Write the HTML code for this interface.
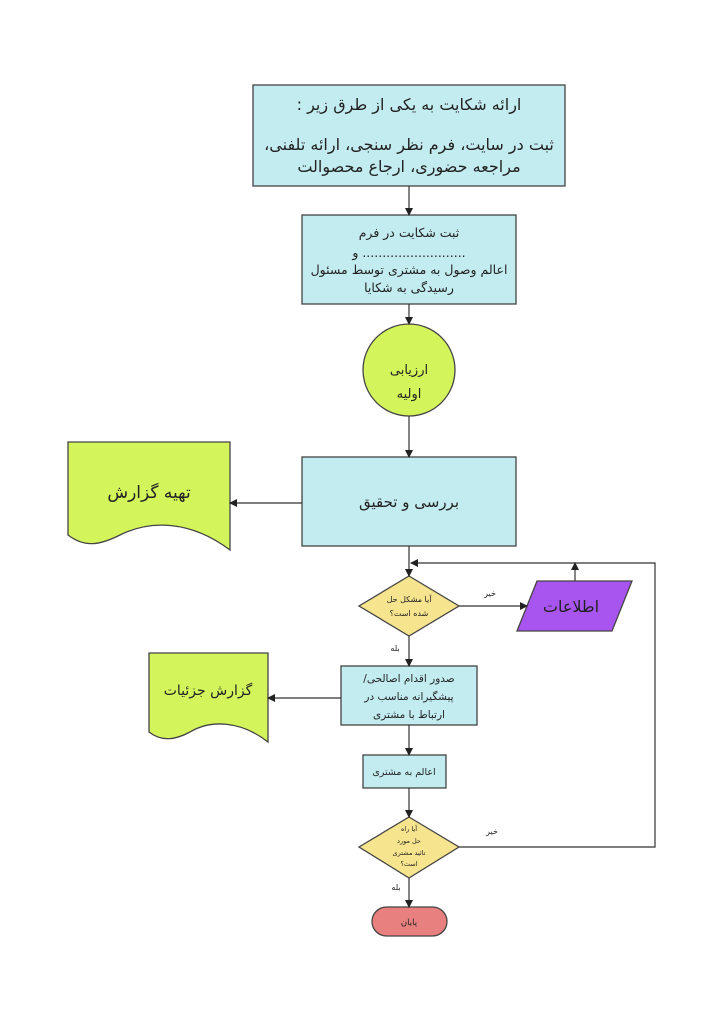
<!DOCTYPE html>
<html><head><meta charset="utf-8"><style>body{margin:0;background:#fff}svg{display:block}text{font-family:"DejaVu Sans","Liberation Sans",sans-serif;fill:#222;text-anchor:middle;direction:rtl}</style></head><body>
<svg width="724" height="1024" viewBox="0 0 724 1024" xmlns="http://www.w3.org/2000/svg">
<defs><marker id="a" markerWidth="8" markerHeight="8" refX="7" refY="4" orient="auto" markerUnits="userSpaceOnUse"><path d="M0,0 L8,4 L0,8z" fill="#222"/></marker></defs>
<g stroke="#444" stroke-width="1.3">
<rect x="253" y="85" width="312" height="101" fill="#c3ecf1"/>
<rect x="302" y="215" width="214" height="89" fill="#c3ecf1"/>
<circle cx="409" cy="370" r="46" fill="#d4f45c"/>
<rect x="302" y="457" width="214" height="89" fill="#c3ecf1"/>
<path d="M68,442 H230 V550 C190,520 150,520 120,535 C100,545 85,548 68,535 Z" fill="#d4f45c"/>
<polygon points="409,576 459,606 409,636 359,606" fill="#f6e48e"/>
<polygon points="537,581 632,581 612,631 517,631" fill="#a855f0"/>
<rect x="341" y="666" width="136" height="59" fill="#c3ecf1"/>
<path d="M149,653 H268 V742 C240,720 210,720 190,732 C175,740 162,742 149,732 Z" fill="#d4f45c"/>
<rect x="363" y="755" width="83" height="33" fill="#c3ecf1"/>
<polygon points="409,817 459,847 409,878 359,847" fill="#f6e48e"/>
<rect x="372" y="907" width="75" height="29" rx="14.5" fill="#e88080"/>
</g>
<g stroke="#333" stroke-width="1.2" fill="none">
<line x1="409" y1="186" x2="409" y2="215" marker-end="url(#a)"/>
<line x1="409" y1="304" x2="409" y2="324" marker-end="url(#a)"/>
<line x1="409" y1="416" x2="409" y2="457" marker-end="url(#a)"/>
<line x1="302" y1="503" x2="230" y2="503" marker-end="url(#a)"/>
<line x1="409" y1="546" x2="409" y2="576" marker-end="url(#a)"/>
<line x1="459" y1="606" x2="527" y2="606" marker-end="url(#a)"/>
<line x1="575" y1="581" x2="575" y2="563" marker-end="url(#a)"/>
<line x1="409" y1="636" x2="409" y2="666" marker-end="url(#a)"/>
<line x1="341" y1="698" x2="268" y2="698" marker-end="url(#a)"/>
<line x1="409" y1="725" x2="409" y2="755" marker-end="url(#a)"/>
<line x1="409" y1="788" x2="409" y2="817" marker-end="url(#a)"/>
<line x1="409" y1="878" x2="409" y2="907" marker-end="url(#a)"/>
<path d="M459,847 H655 V563 H411" marker-end="url(#a)"/>
</g>
<text x="409" y="110" font-size="16">ارائه شکایت به یکی از طرق زیر :</text>
<text x="409" y="150" font-size="16">ثبت در سایت، فرم نظر سنجی، ارائه تلفنی،</text>
<text x="409" y="172" font-size="16">مراجعه حضوری، ارجاع محصوالت</text>
<text x="409" y="237" font-size="12.5">ثبت شکایت در فرم</text>
<text x="409" y="257" font-size="12.5">.......................... و</text>
<text x="409" y="274" font-size="12.5">اعالم وصول به مشتری توسط مسئول</text>
<text x="409" y="292" font-size="12.5">رسیدگی به شکایا</text>
<text x="409" y="374" font-size="13">ارزیابی</text>
<text x="409" y="398" font-size="13">اولیه</text>
<text x="409" y="507" font-size="15">بررسی و تحقیق</text>
<text x="149" y="498" font-size="17">تهیه گزارش</text>
<text x="409" y="602" font-size="8">آیا مشکل حل</text>
<text x="409" y="616" font-size="8">شده است؟</text>
<text x="490" y="596" font-size="8">خیر</text>
<text x="395" y="651" font-size="8">بله</text>
<text x="571" y="612" font-size="16">اطلاعات</text>
<text x="409" y="682" font-size="10.5">صدور اقدام اصالحی/</text>
<text x="409" y="700" font-size="10.5">پیشگیرانه مناسب در</text>
<text x="409" y="718" font-size="10.5">ارتباط با مشتری</text>
<text x="208" y="695" font-size="14">گزارش جزئیات</text>
<text x="404" y="775" font-size="9.5">اعالم به مشتری</text>
<text x="409" y="831" font-size="6.5">آیا راه</text>
<text x="409" y="843" font-size="6.5">حل مورد</text>
<text x="409" y="855" font-size="6.5">تائید مشتری</text>
<text x="409" y="866" font-size="6.5">است؟</text>
<text x="492" y="834" font-size="8">خیر</text>
<text x="396" y="890" font-size="8">بله</text>
<text x="409" y="925" font-size="8.5">پایان</text>
</svg>
</body></html>
